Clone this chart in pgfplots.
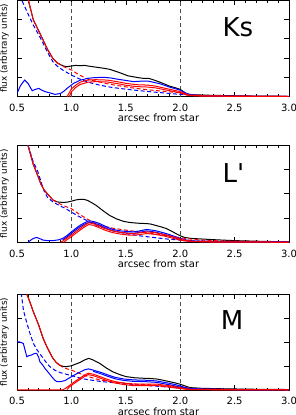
\documentclass[border=0pt]{standalone}
\usepackage{fontspec}
\setmainfont{DejaVu Sans}
\usepackage{pgfplots}
\pgfplotsset{compat=1.18}
\pgfplotsset{
  panel/.style={
    scale only axis, width=272pt,
    xmin=0.5, xmax=3.0, ymin=0,
    xtick={0.5,1.0,1.5,2.0,2.5,3.0},
    minor x tick num=4,
    ytick={1,2,3,4}, yticklabels={},
    tick align=inside,
    major tick length=5pt, minor tick length=2.5pt,
    tick style={black, line width=0.6pt},
    axis line style={line width=0.8pt},
    /pgf/number format/assume math mode=true,
    xticklabel={\pgfmathprintnumber[fixed,fixed zerofill,precision=1]{\tick}},
    xticklabel style={font=\fontsize{10}{12}\selectfont, anchor=center, yshift=-11.3pt},
    xlabel={arcsec from star},
    xlabel style={font=\fontsize{10}{12}\selectfont, at={(axis description cs:0.52,0)}, anchor=center, yshift=-21.5pt},
    ylabel={flux (arbitrary units)},
    ylabel style={font=\fontsize{8.8}{10}\selectfont, at={(axis description cs:-0.046,0.5)}, anchor=center, inner sep=0pt},
    every axis plot/.append style={line width=1pt},
  },
  vline/.style={black!70, line width=1.1pt, dash pattern=on 4pt off 3pt},
  bk/.style={black},
  rs/.style={red},
  bs/.style={blue},
  rd/.style={red, dash pattern=on 4pt off 2.5pt},
  bd/.style={blue, dash pattern=on 4pt off 2.5pt},
}
\begin{document}
\begin{tikzpicture}
% ---------------- Panel 1: Ks ----------------
\begin{axis}[panel, height=96.7pt, ymax=5, at={(17pt,0pt)}, anchor=north west]
\addplot[vline] coordinates {(1,0) (1,5)};
\addplot[vline] coordinates {(2,0) (2,5)};
\addplot[bk] coordinates {(0.56,5.9) (0.604,5.0) (0.65,3.97) (0.70,3.4) (0.74,2.93) (0.78,2.45) (0.83,1.98) (0.87,1.75) (0.90,1.66) (0.93,1.58) (0.96,1.55) (1.0,1.59) (1.04,1.62) (1.08,1.6) (1.12,1.62) (1.16,1.58) (1.21,1.54) (1.26,1.5) (1.31,1.46) (1.355,1.41) (1.42,1.29) (1.478,1.17) (1.52,1.08) (1.57,1.03) (1.62,0.98) (1.66,0.95) (1.71,0.95) (1.75,0.88) (1.8,0.78) (1.85,0.67) (1.9,0.55) (1.95,0.47) (2.0,0.38) (2.03,0.26) (2.06,0.14) (2.12,0.1) (2.18,0.09) (2.3,0.07) (2.49,0.05) (2.7,0.03) (3.0,0.02)};
\addplot[bd] coordinates {(0.52,5.6) (0.543,5.0) (0.6,4.3) (0.65,3.7) (0.7,3.2) (0.74,2.76) (0.78,2.3) (0.83,1.81) (0.87,1.58) (0.92,1.38) (1.0,1.12) (1.07,0.93) (1.14,0.78) (1.2,0.68) (1.26,0.6) (1.35,0.5) (1.44,0.43) (1.53,0.37) (1.63,0.31) (1.72,0.26) (1.8,0.22) (1.9,0.17) (2.0,0.12) (2.1,0.08) (2.18,0.05) (2.4,0.03) (3.0,0.01)};
\addplot[rd] coordinates {(0.87,1.75) (0.90,1.64) (0.95,1.5) (1.003,1.38) (1.05,1.2) (1.1,1.05) (1.155,0.9) (1.23,0.8) (1.31,0.69) (1.43,0.57) (1.554,0.46) (1.7,0.36) (1.85,0.28) (2.0,0.2) (2.1,0.1) (2.2,0.06) (2.5,0.03) (3.0,0.01)};
\addplot[bs] coordinates {(0.5,0.17) (0.53,0.55) (0.57,0.86) (0.6,0.7) (0.64,0.31) (0.67,0.38) (0.70,0.43) (0.73,0.33) (0.76,0.26) (0.8,0.2) (0.85,0.12) (0.9,0.17) (0.93,0.28) (0.96,0.43) (1.02,0.69) (1.08,0.85) (1.15,0.95) (1.22,0.99) (1.3,1.0) (1.36,0.97) (1.42,0.91) (1.5,0.84) (1.57,0.78) (1.63,0.8) (1.7,0.81) (1.76,0.74) (1.82,0.66) (1.9,0.5) (2.0,0.34) (2.04,0.22) (2.08,0.12) (2.16,0.07) (2.24,0.05) (2.5,0.03) (3.0,0.01)};
\addplot[rs] coordinates {(0.56,5.9) (0.604,5.0) (0.65,3.97) (0.70,3.4) (0.74,2.93) (0.78,2.45) (0.83,1.98) (0.87,1.75)};
\addplot[rs] coordinates {(0.96,0.0) (0.98,0.2) (1.0,0.4) (1.04,0.6) (1.08,0.75) (1.15,0.86) (1.22,0.88) (1.33,0.86) (1.42,0.78) (1.5,0.69) (1.6,0.62) (1.7,0.6) (1.77,0.55) (1.85,0.45) (1.93,0.35) (2.0,0.26) (2.04,0.17) (2.08,0.09) (2.2,0.05) (2.5,0.03) (3.0,0.01)};
\addplot[rs] coordinates {(0.98,0.0) (1.0,0.25) (1.04,0.48) (1.08,0.63) (1.15,0.75) (1.22,0.78) (1.33,0.76) (1.42,0.68) (1.5,0.59) (1.6,0.52) (1.7,0.5) (1.77,0.46) (1.85,0.37) (1.93,0.28) (2.0,0.2) (2.04,0.12) (2.08,0.06) (2.2,0.03) (2.5,0.02) (3.0,0.01)};
\node[font=\fontsize{26}{28}\selectfont] at (axis cs:2.53,3.6) {Ks};
\end{axis}
% ---------------- Panel 2: L' ----------------
\begin{axis}[panel, height=97.3pt, ymax=4, at={(17pt,-145pt)}, anchor=north west]
\addplot[vline] coordinates {(1,0) (1,4)};
\addplot[vline] coordinates {(2,0) (2,4)};
\addplot[bk] coordinates {(0.57,4.6) (0.6,4.0) (0.65,3.2) (0.69,2.75) (0.72,2.39) (0.75,2.15) (0.78,1.99) (0.83,1.74) (0.87,1.66) (0.92,1.64) (0.96,1.65) (1.0,1.69) (1.04,1.74) (1.08,1.77) (1.12,1.76) (1.15,1.72) (1.19,1.62) (1.23,1.51) (1.29,1.3) (1.35,1.11) (1.41,0.97) (1.48,0.86) (1.53,0.82) (1.57,0.8) (1.63,0.78) (1.69,0.77) (1.73,0.75) (1.77,0.7) (1.82,0.64) (1.87,0.57) (1.92,0.46) (1.96,0.36) (2.0,0.27) (2.04,0.2) (2.1,0.16) (2.18,0.14) (2.3,0.11) (2.49,0.07) (2.75,0.04) (3.0,0.02)};
\addplot[bd] coordinates {(0.58,4.5) (0.6,4.0) (0.65,3.3) (0.69,2.93) (0.72,2.5) (0.75,2.1) (0.78,1.85) (0.83,1.66) (0.89,1.51) (0.95,1.38) (1.0,1.24) (1.07,1.06) (1.14,0.9) (1.2,0.76) (1.26,0.64) (1.38,0.48) (1.5,0.36) (1.62,0.27) (1.75,0.2) (1.87,0.14) (2.0,0.09) (2.1,0.06) (2.3,0.04) (3.0,0.01)};
\addplot[rd] coordinates {(0.83,1.74) (0.87,1.64) (0.92,1.52) (1.0,1.38) (1.07,1.16) (1.14,0.97) (1.2,0.82) (1.26,0.7) (1.38,0.58) (1.5,0.5) (1.62,0.43) (1.75,0.36) (1.87,0.28) (2.0,0.19) (2.1,0.13) (2.2,0.09) (2.4,0.05) (3.0,0.02)};
\addplot[bs] coordinates {(0.6,0.0) (0.63,0.1) (0.65,0.16) (0.68,0.2) (0.71,0.15) (0.74,0.09) (0.78,0.07) (0.83,0.07) (0.88,0.1) (0.92,0.16) (0.96,0.28) (1.0,0.43) (1.04,0.57) (1.08,0.7) (1.12,0.8) (1.16,0.88) (1.2,0.86) (1.26,0.77) (1.32,0.64) (1.38,0.53) (1.45,0.47) (1.52,0.44) (1.57,0.43) (1.63,0.47) (1.69,0.53) (1.74,0.5) (1.78,0.47) (1.84,0.4) (1.9,0.32) (1.95,0.24) (2.0,0.16) (2.05,0.1) (2.12,0.05) (2.3,0.03) (3.0,0.01)};
\addplot[bs] coordinates {(0.92,0.1) (0.96,0.22) (1.0,0.37) (1.04,0.51) (1.08,0.64) (1.12,0.74) (1.16,0.82) (1.2,0.8) (1.26,0.71) (1.32,0.58) (1.38,0.47) (1.45,0.41) (1.52,0.38) (1.57,0.37) (1.63,0.41) (1.69,0.47) (1.74,0.44) (1.78,0.41) (1.84,0.34) (1.9,0.26) (1.95,0.19) (2.0,0.12) (2.05,0.07) (2.12,0.04) (2.3,0.02) (3.0,0.01)};
\addplot[rs] coordinates {(0.57,4.6) (0.6,4.0) (0.65,3.2) (0.69,2.75) (0.72,2.39) (0.75,2.15) (0.78,1.99) (0.83,1.74)};
\addplot[rs] coordinates {(0.9,0.0) (0.92,0.05) (0.96,0.18) (1.0,0.3) (1.04,0.44) (1.08,0.57) (1.12,0.7) (1.16,0.8) (1.2,0.77) (1.26,0.66) (1.32,0.55) (1.38,0.47) (1.45,0.41) (1.52,0.37) (1.57,0.36) (1.63,0.39) (1.69,0.43) (1.74,0.41) (1.78,0.39) (1.85,0.32) (1.93,0.23) (2.0,0.14) (2.05,0.08) (2.12,0.04) (2.3,0.02) (3.0,0.01)};
\addplot[rs] coordinates {(0.93,0.0) (0.96,0.11) (1.0,0.23) (1.04,0.37) (1.08,0.5) (1.12,0.63) (1.16,0.73) (1.2,0.7) (1.26,0.59) (1.32,0.48) (1.38,0.4) (1.45,0.34) (1.52,0.3) (1.57,0.29) (1.63,0.32) (1.69,0.36) (1.74,0.34) (1.78,0.32) (1.85,0.26) (1.93,0.17) (2.0,0.09) (2.05,0.05) (2.12,0.03) (2.3,0.01) (3.0,0.0)};
\node[font=\fontsize{26}{28}\selectfont] at (axis cs:2.49,2.85) {L\textquotesingle};
\end{axis}
% ---------------- Panel 3: M ----------------
\begin{axis}[panel, height=96pt, ymax=4, at={(17pt,-294pt)}, anchor=north west]
\addplot[vline] coordinates {(1,0) (1,4)};
\addplot[vline] coordinates {(2,0) (2,4)};
\addplot[bk] coordinates {(0.57,4.5) (0.59,4.0) (0.62,3.65) (0.65,3.26) (0.7,2.7) (0.74,2.15) (0.78,1.75) (0.83,1.32) (0.86,1.15) (0.89,1.04) (0.92,0.99) (0.95,0.97) (1.0,1.01) (1.04,1.08) (1.08,1.15) (1.12,1.25) (1.16,1.32) (1.2,1.25) (1.26,1.11) (1.32,0.92) (1.38,0.76) (1.44,0.65) (1.5,0.56) (1.58,0.51) (1.66,0.49) (1.72,0.48) (1.78,0.46) (1.84,0.41) (1.9,0.35) (1.95,0.3) (2.0,0.24) (2.05,0.16) (2.09,0.1) (2.2,0.07) (2.4,0.05) (2.7,0.03) (3.0,0.02)};
\addplot[bd] coordinates {(0.52,4.3) (0.54,4.0) (0.56,3.3) (0.59,2.8) (0.62,2.35) (0.65,1.95) (0.68,1.7) (0.72,1.45) (0.76,1.2) (0.8,0.98) (0.85,0.82) (0.9,0.72) (0.95,0.66) (1.0,0.6) (1.1,0.47) (1.2,0.4) (1.28,0.35) (1.4,0.3) (1.52,0.25) (1.65,0.2) (1.78,0.16) (1.9,0.12) (2.0,0.08) (2.1,0.05) (2.3,0.03) (3.0,0.01)};
\addplot[rd] coordinates {(0.89,1.04) (0.92,0.95) (0.96,0.88) (1.0,0.83) (1.07,0.7) (1.14,0.58) (1.2,0.5) (1.26,0.42) (1.38,0.34) (1.5,0.28) (1.62,0.24) (1.75,0.21) (1.87,0.16) (2.0,0.12) (2.1,0.07) (2.2,0.04) (2.5,0.02) (3.0,0.01)};
\addplot[bs] coordinates {(0.5,2.0) (0.52,2.01) (0.558,1.94) (0.575,1.65) (0.59,1.39) (0.61,1.43) (0.635,1.46) (0.66,1.52) (0.68,1.53) (0.7,1.35) (0.71,1.18) (0.735,1.05) (0.757,0.9) (0.79,0.72) (0.82,0.55) (0.845,0.42) (0.865,0.35) (0.9,0.35) (0.94,0.39) (0.98,0.5) (1.03,0.63) (1.08,0.75) (1.12,0.84) (1.155,0.88) (1.2,0.83) (1.28,0.72) (1.34,0.62) (1.4,0.53) (1.48,0.46) (1.57,0.42) (1.67,0.41) (1.78,0.38) (1.84,0.33) (1.9,0.28) (1.95,0.23) (2.0,0.17) (2.04,0.11) (2.08,0.07) (2.2,0.04) (2.5,0.02) (3.0,0.01)};
\addplot[bs] coordinates {(1.2,0.78) (1.28,0.66) (1.34,0.56) (1.4,0.47) (1.48,0.4) (1.57,0.36) (1.67,0.35) (1.78,0.32) (1.84,0.27) (1.9,0.22) (1.95,0.17) (2.0,0.12) (2.04,0.07) (2.08,0.04) (2.2,0.02) (2.5,0.01) (3.0,0.0)};
\addplot[rs] coordinates {(0.57,4.5) (0.59,4.0) (0.62,3.65) (0.65,3.26) (0.7,2.7) (0.74,2.15) (0.78,1.75) (0.83,1.32) (0.86,1.15) (0.89,1.04)};
\addplot[rs] coordinates {(0.5,0.01) (0.92,0.01) (0.94,0.05) (0.98,0.18) (1.03,0.35) (1.08,0.5) (1.12,0.62) (1.155,0.7) (1.2,0.66) (1.28,0.53) (1.34,0.43) (1.4,0.35) (1.48,0.29) (1.57,0.24) (1.67,0.24) (1.78,0.25) (1.84,0.21) (1.9,0.18) (1.95,0.14) (2.0,0.1) (2.05,0.05) (2.1,0.03) (2.3,0.02) (3.0,0.01)};
\addplot[rs] coordinates {(0.96,0.02) (0.98,0.12) (1.03,0.29) (1.08,0.44) (1.12,0.56) (1.155,0.64) (1.2,0.6) (1.28,0.47) (1.34,0.37) (1.4,0.29) (1.48,0.23) (1.57,0.18) (1.67,0.18) (1.78,0.19) (1.84,0.15) (1.9,0.12) (1.95,0.09) (2.0,0.06) (2.05,0.03) (2.1,0.02) (2.3,0.01) (3.0,0.0)};
\node[font=\fontsize{26}{28}\selectfont] at (axis cs:2.476,2.92) {M};
\end{axis}
\pgfresetboundingbox
\useasboundingbox (0pt,0pt) rectangle (296pt,-415pt);
\end{tikzpicture}
\end{document}
